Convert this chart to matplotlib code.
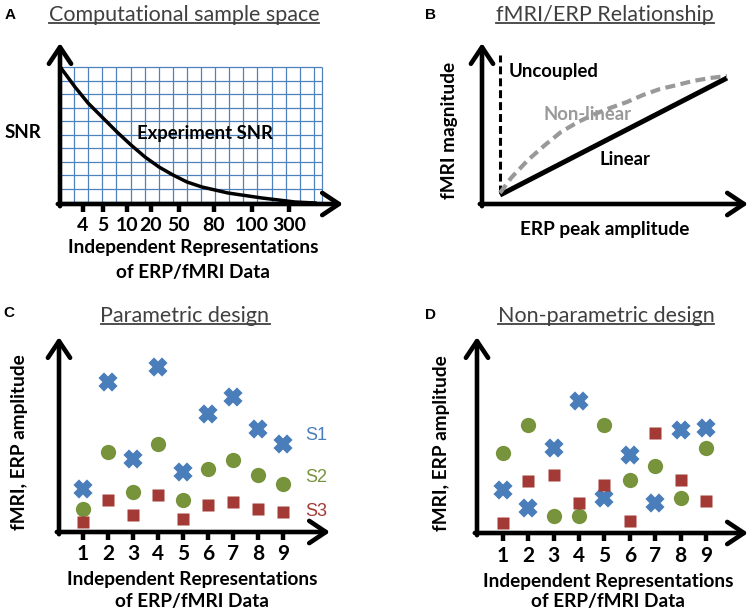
import numpy as np
import matplotlib
matplotlib.use("Agg")
import matplotlib.pyplot as plt
from matplotlib.lines import Line2D

plt.rcParams['font.family'] = ['Lato', 'DejaVu Sans']

W, H = 756, 616

# panel A - experiment SNR curve (units: px from the origin)
snr_x = [1, 15, 28, 43, 57, 71, 85, 99, 113, 127, 142, 168, 202, 235, 255]
snr_y = [136, 117, 101, 86, 72, 59, 47, 37, 29, 22, 17, 11, 6, 2, 1]
rep_labels = ['4', '5', '10', '20', '50', '80', '100', '300']
rep_pos = [23, 43, 67, 91, 119, 154, 192, 229]

# panel B - fMRI/ERP relationship
uncoupled_x = [18, 18]
uncoupled_y = [11, 149]
linear_x = [18, 245]
linear_y = [9, 126]
nonlin_x = [18, 29, 46, 63, 79, 96, 113, 128, 145, 161, 178, 195, 211, 228, 245]
nonlin_y = [11, 26, 44, 59, 72, 82, 90, 96, 102, 109, 115, 119, 123, 126, 128]

# panels C and D - subjects S1..S3
reps = [1, 2, 3, 4, 5, 6, 7, 8, 9]
param_s1 = [2.6, 9.0, 4.4, 9.9, 3.6, 7.1, 8.1, 6.2, 5.3]
param_s2 = [1.4, 4.8, 2.4, 5.3, 1.9, 3.8, 4.3, 3.4, 2.9]
param_s3 = [0.6, 1.9, 1.0, 2.2, 0.8, 1.6, 1.8, 1.4, 1.2]
nonpar_s1 = [2.6, 1.5, 5.1, 7.9, 2.1, 4.7, 1.8, 6.2, 6.3]
nonpar_s2 = [4.8, 6.5, 1.0, 1.0, 6.5, 3.2, 4.0, 2.1, 5.1]
nonpar_s3 = [0.6, 3.1, 3.5, 1.8, 2.9, 0.7, 6.0, 3.2, 1.9]

blue = '#4a7ebb'
green = '#77933c'
red = '#a33a36'
title_col = '#404040'

fig = plt.figure(figsize=(W / 100, H / 100), dpi=100)


def make_axes(x0, y0, x1, y1):
    # x0,y0 = origin in px, x1,y1 = arrow tips in px
    ax = fig.add_axes([x0 / W, 1 - y0 / H, (x1 - x0) / W, (y0 - y1) / H])
    for s in ax.spines.values():
        s.set_visible(False)
    ax.patch.set_visible(False)
    ax.set_yticks([])
    ax.set_xticks([])
    dx = 2.2 / (x1 - x0)
    dy = 2.2 / (y0 - y1)
    style = '->,head_length=1.2,head_width=0.8'
    ax.annotate('', xy=(1, 0), xytext=(-dx, 0), xycoords='axes fraction',
                arrowprops=dict(arrowstyle=style, lw=3.3, color='black',
                                shrinkA=0, shrinkB=0, mutation_scale=10))
    ax.annotate('', xy=(0, 1), xytext=(0, -dy), xycoords='axes fraction',
                arrowprops=dict(arrowstyle=style, lw=3.3, color='black',
                                shrinkA=0, shrinkB=0, mutation_scale=10))
    return ax


def ftext(x, y, s, **kw):
    kw.setdefault('ha', 'center')
    kw.setdefault('va', 'center')
    return fig.text(x / W, 1 - y / H, s, **kw)


titles = []


def title(x, y, s):
    t = ftext(x, y, s, va='baseline', fontsize=15.5, color=title_col)
    titles.append((t, y))


def letter(x, y, s):
    ftext(x, y, s, ha='left', fontsize=11, fontweight='bold', family='Liberation Sans')


def xticks(ax, pos, labels, size):
    ax.set_xticks(pos)
    ax.set_xticklabels(labels, fontsize=size, fontweight='bold')
    ax.tick_params(axis='x', length=6, width=3.2, color='black', pad=3)


bold = dict(fontweight='bold', fontsize=13.7)

# ---------------- A ----------------
letter(5, 15, 'A')
title(184, 21, 'Computational sample space')
axA = make_axes(60, 204, 343, 43)
axA.set_xlim(0, 283)
axA.set_ylim(0, 161)
gx = list(np.arange(0, 262, 14.1)) + [262]
gy = list(137 - np.arange(0, 137, 13.5)) + [0]
axA.vlines(gx, 0, 137, color='#4f81bd', lw=0.9, zorder=1)
axA.hlines(gy, 0, 262, color='#4f81bd', lw=0.9, zorder=1)
axA.plot(snr_x, snr_y, color='black', lw=2.5, zorder=3)
xticks(axA, rep_pos, rep_labels, 14)
ftext(23, 132, 'SNR', fontweight='bold', fontsize=13.5)
ftext(205, 133, 'Experiment SNR', fontweight='bold', fontsize=13.3)
ftext(193, 248, 'Independent Representations', **bold)
ftext(193, 273, 'of ERP/fMRI Data', **bold)

# ---------------- B ----------------
letter(425, 15, 'B')
title(605, 21, 'fMRI/ERP Relationship')
axB = make_axes(482, 204, 748, 43)
axB.set_xlim(0, 266)
axB.set_ylim(0, 161)
axB.plot(uncoupled_x, uncoupled_y, color='black', lw=2.2, dashes=(2.6, 1.3))
axB.plot(linear_x, linear_y, color='black', lw=3.6, solid_capstyle='butt')
axB.plot(nonlin_x, nonlin_y, color='#999999', lw=3, dashes=(2.4, 1.3), zorder=4)
ftext(509, 72, 'Uncoupled', ha='left', fontweight='bold', fontsize=13.3)
ftext(588, 115, 'Non-linear', fontweight='bold', fontsize=13.3, color='#999999')
ftext(625, 159, 'Linear', fontweight='bold', fontsize=13.3)
ftext(450, 130, 'fMRI magnitude', rotation=90, **bold)
ftext(605, 229, 'ERP peak amplitude', **bold)


def scatter_panel(ax, s1, s2, s3):
    ax.plot(reps, s1, ls='none', marker='X', ms=12, color=blue, mec=blue, mew=1.6, zorder=3)
    ax.plot(reps, s2, ls='none', marker='o', ms=11, color=green, mec='none', zorder=3)
    ax.plot(reps, s3, ls='none', marker='s', ms=8.5, color=red, mec='none', zorder=3)
    xticks(ax, reps, [str(r) for r in reps], 15)


# ---------------- C ----------------
letter(3, 313, 'C')
title(185, 322, 'Parametric design')
axC = make_axes(59, 532, 330, 337)
axC.set_xlim(0.04, 10.88)
axC.set_ylim(0, 11.7)
scatter_panel(axC, param_s1, param_s2, param_s3)
for name, col, yy in [('S1', blue, 435), ('S2', green, 477), ('S3', red, 512)]:
    ftext(316, yy, name, color=col, fontsize=13, family='Liberation Sans')
ftext(20, 442, 'fMRI, ERP amplitude', rotation=90, **bold)
ftext(192, 580, 'Independent Representations', **bold)
ftext(192, 602, 'of ERP/fMRI Data', **bold)

# ---------------- D ----------------
letter(425, 315, 'D')
title(606, 322, 'Non-parametric design')
axD = make_axes(477, 533, 748, 337)
axD.set_xlim(-0.02, 10.65)
axD.set_ylim(0, 11.76)
scatter_panel(axD, nonpar_s1, nonpar_s2, nonpar_s3)
ftext(441, 443, 'fMRI, ERP amplitude', rotation=90, **bold)
ftext(608, 582, 'Independent Representations', **bold)
ftext(608, 602, 'of ERP/fMRI Data', **bold)

# underline the titles
fig.canvas.draw()
inv = fig.transFigure.inverted()
for t, y in titles:
    bb = t.get_window_extent().transformed(inv)
    yl = 1 - (y + 2) / H
    fig.add_artist(Line2D([bb.x0, bb.x1], [yl, yl], transform=fig.transFigure,
                          color=title_col, lw=1.3))

fig.savefig('out.png', dpi=100)
